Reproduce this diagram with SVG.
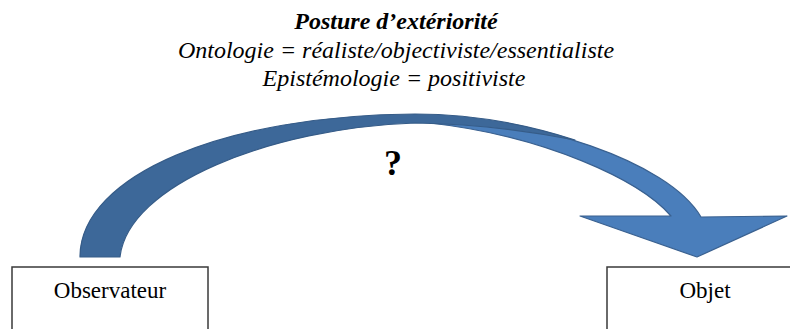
<svg xmlns="http://www.w3.org/2000/svg" width="790" height="329" viewBox="0 0 790 329">
<style>
.t{font-family:"Liberation Serif","Times New Roman",serif;fill:#000;text-anchor:middle}
.hd{font-size:24px;font-style:italic}
.box{fill:#fff;stroke:#3a3a3a;stroke-width:1.5}
.lbl{font-size:23px}
.front{fill:#4a7ebb;stroke:#3a6190;stroke-width:1.2;stroke-linejoin:round}
.back{fill:#3d6899;stroke:#365c88;stroke-width:1.2;stroke-linejoin:round}
</style>
<rect width="790" height="329" fill="#fff"/>
<g id="title">
<text class="t hd" x="396" y="29" font-weight="bold">Posture d’extériorité</text>
<text class="t hd" x="396" y="58">Ontologie = réaliste/objectiviste/essentialiste</text>
<text class="t hd" x="394" y="86">Epistémologie = positiviste</text>
</g>
<g id="connectors">
<path class="front" d="M430,116 C530,118 668,160 701,217 L787,216 L697,257 L580,216 L671,216 C640,180 545,136 430,123 Z"/>
<path class="back" d="M80,257 C80,175 225,115 415,114 C480,114 535,127 575,140 C530,131 480,124 415,123 C270,128 128,185 120,257 Z"/>
<text class="t" x="393" y="175" font-size="36" font-weight="bold">?</text>
</g>
<g id="observateur">
<rect class="box" x="12" y="267" width="196" height="80"/>
<text class="t lbl" x="110" y="298">Observateur</text>
</g>
<g id="objet">
<rect class="box" x="607" y="267" width="196" height="80"/>
<text class="t lbl" x="705" y="298">Objet</text>
</g>
</svg>
